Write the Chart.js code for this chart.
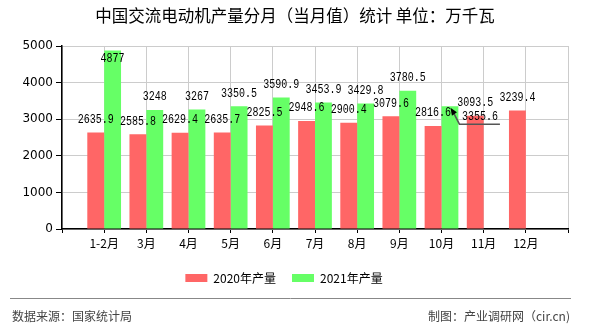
<!DOCTYPE html>
<html>
<head>
<meta charset="utf-8">
<script src="https://cdn.jsdelivr.net/npm/chart.js@4.4.1/dist/chart.umd.min.js"></script>
<style>
  html, body { margin: 0; padding: 0; background: #fff; }
  #wrap { width: 590px; height: 330px; position: relative; }
</style>
</head>
<body>
<div id="wrap"><canvas id="c" width="590" height="330"></canvas></div>
<script>
// Monthly production of AC motors (万千瓦)
const months = ['1-2月', '3月', '4月', '5月', '6月', '7月', '8月', '9月', '10月', '11月', '12月'];
const output2020 = [2635.9, 2585.8, 2629.4, 2635.7, 2825.5, 2948.6, 2900.4, 3079.6, 2816.6, 3093.5, 3239.4];
const output2021 = [4877, 3248, 3267, 3350.5, 3590.9, 3453.9, 3429.8, 3780.5, 3355.6, null, null];
const yTicks = [0, 1000, 2000, 3000, 4000, 5000];

const titleText = '中国交流电动机产量分月（当月值）统计 单位：万千瓦';
const sourceText = '数据来源：国家统计局';
const creditText = '制图：产业调研网（cir.cn)';

// The x axis has an empty slot at each end so the months sit on grid lines
const labels = [''].concat(months, ['']);
const pad = arr => [null].concat(arr, [null]);

const CJK = "'Noto Sans CJK SC', 'Noto Sans', sans-serif";

// Title and source footer
const frame = {
  id: 'frame',
  afterDraw(chart) {
    const ctx = chart.ctx;
    ctx.save();
    ctx.fillStyle = '#000';
    ctx.font = '16.5px ' + CJK;
    ctx.textAlign = 'center';
    ctx.textBaseline = 'middle';
    ctx.fillText(titleText, 295, 16);

    ctx.strokeStyle = '#888';
    ctx.lineWidth = 1;
    ctx.beginPath();
    ctx.moveTo(10, 298.5);
    ctx.lineTo(571, 298.5);
    ctx.stroke();

    ctx.fillStyle = '#444';
    ctx.font = '12px ' + CJK;
    ctx.textAlign = 'left';
    ctx.fillText(sourceText, 12, 316);
    ctx.textAlign = 'right';
    ctx.fillText(creditText, 570, 316);
    ctx.restore();
  }
};

// Value labels above each bar; the one for October 2021 is moved aside with a pointer
const valueLabels = {
  id: 'valueLabels',
  afterDatasetsDraw(chart) {
    const ctx = chart.ctx;
    const area = chart.chartArea;
    ctx.save();
    ctx.textAlign = 'center';
    ctx.textBaseline = 'middle';
    ctx.font = "12.5px 'Liberation Mono', 'DejaVu Sans Mono', monospace";
    const drawText = (t, x, y) => {
      ctx.save();
      ctx.translate(x, y);
      ctx.scale(0.8, 1);
      ctx.fillStyle = '#000';
      ctx.fillText(t, 0, 0);
      ctx.restore();
    };
    chart.data.datasets.forEach((ds, di) => {
      const meta = chart.getDatasetMeta(di);
      meta.data.forEach((bar, i) => {
        const v = ds.data[i];
        if (v === null || v === undefined) return;
        const t = String(v);
        if (ds.callout === i) {
          // pointer from bar top to the shifted label
          const tipX = bar.x + 0.5, tipY = bar.y + 1.5;
          const elbowX = bar.x + 9.5, elbowY = bar.y + 18;
          ctx.strokeStyle = '#555';
          ctx.lineWidth = 1.5;
          ctx.beginPath();
          ctx.moveTo(tipX + 3, tipY + 5);
          ctx.lineTo(elbowX, elbowY);
          ctx.lineTo(bar.x + 50, elbowY);
          ctx.stroke();
          ctx.fillStyle = '#000';
          ctx.beginPath();
          ctx.moveTo(tipX, tipY);
          ctx.lineTo(tipX + 1.5, tipY + 8);
          ctx.lineTo(tipX + 6.5, tipY + 4.5);
          ctx.closePath();
          ctx.fill();
          drawText(t, bar.x + 30, bar.y + 10.5);
        } else {
          const y = Math.max(bar.y - 13, area.top + 13);
          drawText(t, bar.x, y);
        }
      });
    });
    ctx.restore();
  }
};

new Chart(document.getElementById('c'), {
  type: 'bar',
  data: {
    labels: labels,
    datasets: [
      { label: '2020年产量', data: pad(output2020), backgroundColor: '#ff6666', borderWidth: 0 },
      { label: '2021年产量', data: pad(output2021), backgroundColor: '#66ff66', borderWidth: 0, callout: 9 }
    ]
  },
  options: {
    responsive: false,
    animation: false,
    events: [],
    layout: { padding: { left: 0, right: 22, top: 46, bottom: 36 } },
    datasets: { bar: { categoryPercentage: 0.8, barPercentage: 1 } },
    scales: {
      x: {
        offset: false,
        grid: { offset: false, color: '#cccccc', tickColor: '#000', tickLength: 4, lineWidth: 1 },
        border: { color: '#000', width: 1.5 },
        ticks: { color: '#000', font: { size: 12, family: CJK }, padding: 3, autoSkip: false, maxRotation: 0 },
        afterFit: s => { s.height = 27; }
      },
      y: {
        min: 0, max: 5000,
        afterBuildTicks: s => { s.ticks = yTicks.map(v => ({ value: v })); },
        grid: { color: '#cccccc', tickColor: '#000', tickLength: 6 },
        border: { color: '#000', width: 1.5 },
        ticks: {
          color: '#000', font: { size: 12, family: "'DejaVu Sans', sans-serif" }, padding: 3,
          callback: v => String(v)
        },
        afterFit: s => { s.width = 62; }
      }
    },
    plugins: {
      title: { display: false },
      tooltip: { enabled: false },
      legend: {
        position: 'bottom',
        labels: {
          boxWidth: 22, boxHeight: 8, padding: 16, color: '#000',
          font: { size: 12, family: CJK }
        }
      }
    }
  },
  plugins: [frame, valueLabels]
});
</script>
</body>
</html>
